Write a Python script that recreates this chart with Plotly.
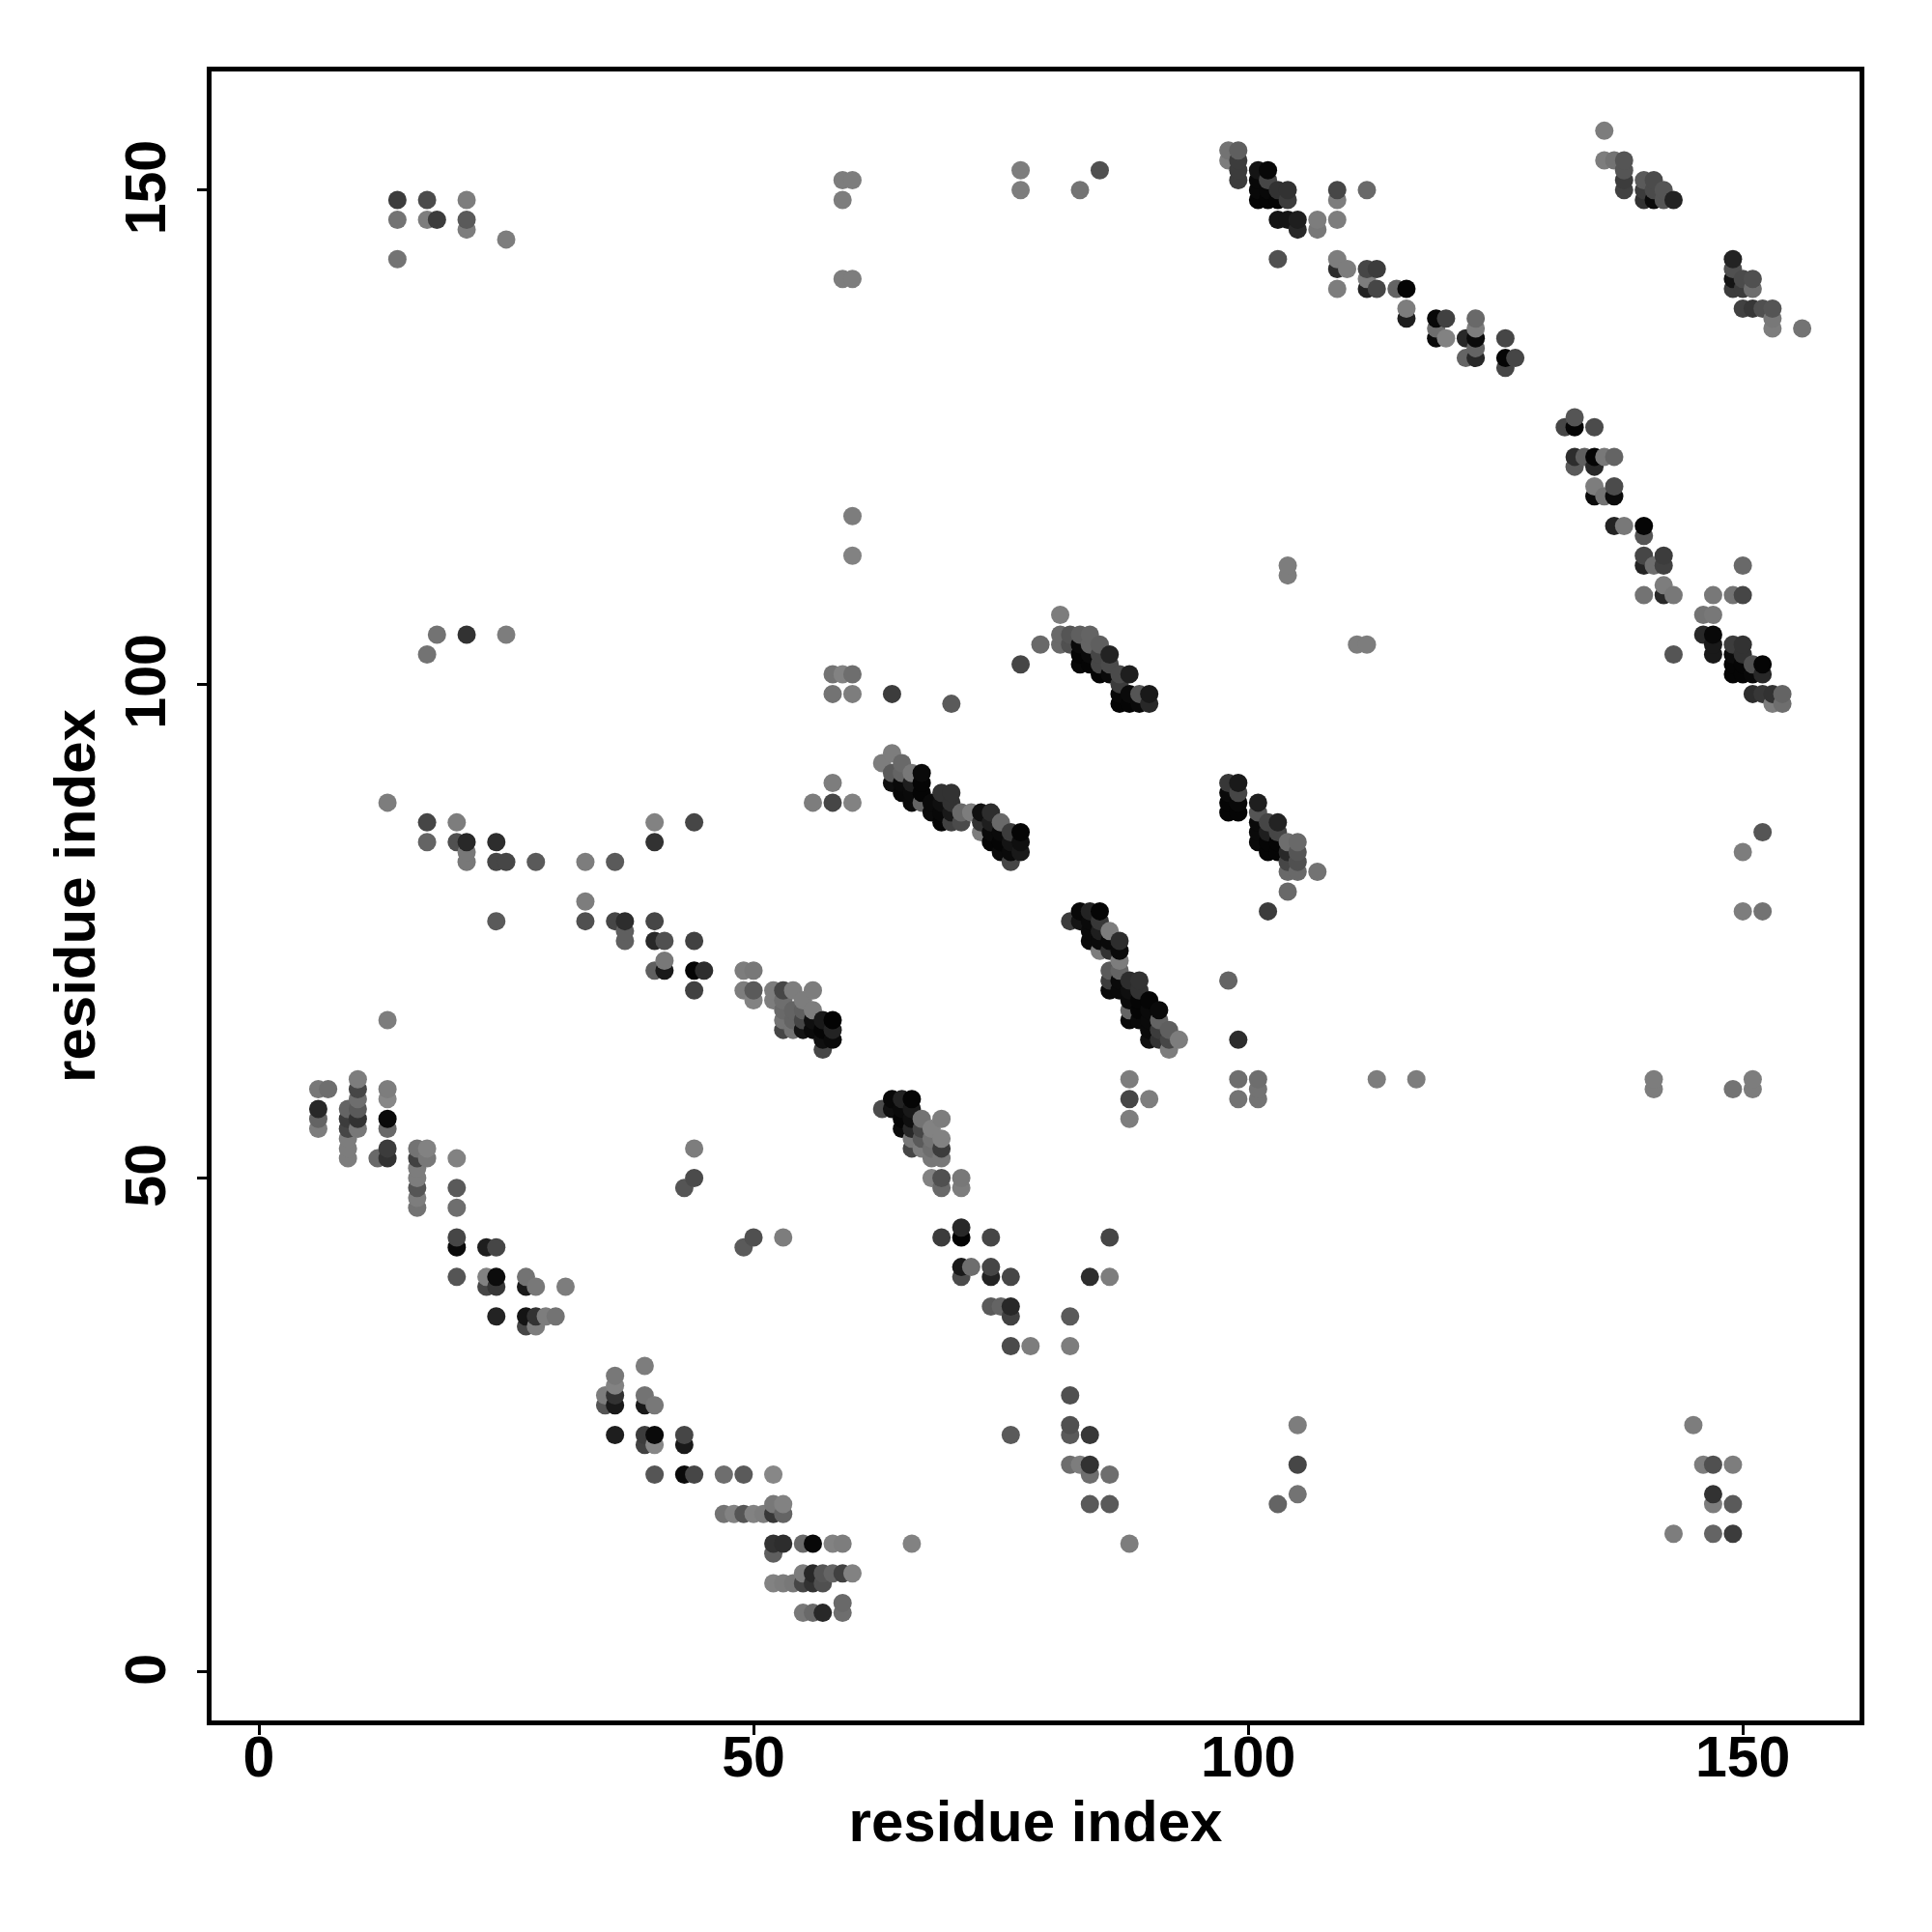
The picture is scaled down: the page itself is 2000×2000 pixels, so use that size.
import plotly.graph_objects as go

# (residue i, residue j, grey level)
lower_left = [
(6,59,120),(6,57,40),(6,56,100),(6,55,125),(7,59,110),
(9,57,100),(9,56,60),(9,55,70),(9,54,125),(9,53,125),(9,52,125),
(10,60,125),(10,59,70),(10,58,110),(10,57,90),(10,56,50),(10,55,120),
(12,52,105),(13,66,125),(13,59,125),(13,58,135),(13,56,10),(13,55,105),(13,53,60),(13,52,50),
(16,53,115),(16,52,65),(16,51,125),(16,50,125),(16,49,85),(16,48,125),(16,47,115),(17,53,130),(17,52,120),
(20,52,130),(20,49,90),(20,47,110),(20,44,70),(20,43,10),(20,40,85),
(23,43,30),(23,40,130),(23,39,70),(24,43,70),(24,40,12),(24,39,55),(24,36,35),
(27,40,115),(27,39,25),(27,36,20),(27,35,70),(28,39,120),(28,36,50),(28,35,125),(29,36,125),(30,36,115),(31,39,125),
]
lower_mid = [
(35,28,125),(35,27,85),(36,30,120),(36,29,130),(36,28,50),(36,27,25),(36,24,30),
(39,31,125),(39,28,115),(39,27,25),(39,24,60),(39,23,65),(40,27,120),(40,24,10),(40,23,135),(40,20,85),
(43,24,70),(43,23,25),(43,20,10),(44,20,70),(47,20,110),(47,16,115),(48,16,130),(49,20,90),(49,16,85),(50,16,130),(51,16,125),
(52,20,135),(52,17,120),(52,16,55),(52,13,50),(52,12,95),(52,9,130),(53,17,130),(53,16,100),(53,13,45),(53,9,125),(54,9,120),
(55,13,105),(55,10,125),(55,9,70),(55,6,120),(56,13,8),(56,10,40),(56,9,50),(56,6,105),(57,10,85),(57,9,80),(57,6,40),
(58,13,130),(58,10,100),(59,13,125),(59,10,65),(59,7,105),(59,6,110),(60,10,130),(66,13,130),
]
middle_band = [
(33,82,125),(33,78,125),(33,76,80),(36,82,90),(36,76,70),(37,76,45),(37,75,95),(37,74,95),
(40,86,130),(40,84,50),(40,76,70),(40,74,40),(40,71,95),(41,74,80),(41,72,120),(41,71,25),
(44,86,70),(44,74,65),(44,71,5),(44,69,65),(45,71,45),(49,71,125),(49,69,125),(50,71,120),(50,69,90),(50,68,130),
(52,69,125),(52,68,125),(53,69,70),(53,68,110),(53,67,105),(53,66,115),(53,65,70),(54,69,125),(54,67,100),(54,66,100),(54,65,115),
(55,68,125),(55,67,95),(55,66,70),(55,65,20),(56,69,125),(56,67,125),(56,66,15),(56,65,10),
(57,66,25),(57,65,5),(57,64,15),(57,63,70),(58,66,3),(58,65,35),(58,64,10),
]
upper_left = [
(13,88,125),(17,86,70),(20,86,125),(17,84,100),(20,84,80),(21,84,40),(21,83,120),(21,82,120),(24,84,45),(24,82,70),(25,82,70),(28,82,90),(24,76,90),
(17,103,115),(18,105,115),(21,105,50),(25,105,125),
(14,149,60),(17,149,75),(21,149,125),(14,147,115),(17,147,125),(18,147,60),(21,147,90),(21,146,125),(14,143,115),(25,145,125),
(59,151,125),(60,151,125),(59,149,125),(59,141,125),(60,141,125),(77,152,125),(77,150,125),(83,150,115),(85,152,80),
(60,117,125),(60,113,130),(58,101,115),(59,101,130),(60,101,110),(58,99,115),(60,99,125),(64,99,60),(70,98,90),(77,102,70),
(79,104,105),(81,107,125),(56,88,125),(58,90,125),(58,88,70),(60,88,130),
(43,49,85),(44,50,75),(44,53,125),(49,43,90),(50,44,80),(53,44,125),
]
block_58 = [
(63,57,75),(64,58,8),(65,58,35),(66,58,5),(64,57,15),(65,57,10),(66,57,25),(65,56,5),(66,56,15),(67,56,115),(69,56,125),
(65,55,10),(66,55,40),(67,55,70),(68,55,130),(66,54,120),(67,54,90),(68,54,115),(69,54,130),(66,53,70),(67,53,125),(68,53,110),(69,53,60),
(68,52,120),(69,52,120),(68,50,130),(69,50,80),(71,50,120),(69,49,105),(71,49,125),
(71,45,40),(69,44,60),(71,44,3),(74,44,70),(71,41,25),(72,41,110),(74,41,70),(71,40,75),(74,40,35),(76,40,70),
(74,37,90),(75,37,100),(76,37,40),(76,36,65),(76,33,75),(78,33,125),(76,24,90),
(82,36,90),(82,33,125),(84,40,45),(86,40,125),(86,44,70),(88,60,125),(88,58,70),(88,56,125),(90,58,125),
(82,28,80),(82,25,80),(82,24,90),(84,24,55),(82,21,110),(83,21,125),(84,21,50),(84,20,110),(86,20,110),(84,17,90),(86,17,90),(88,13,125),
]
block_90 = [
(64,93,125),(63,92,125),(65,92,105),(64,91,90),(65,91,100),(66,91,120),(67,91,10),(64,90,15),(65,90,10),(66,90,30),(67,90,5),
(65,89,8),(66,89,10),(67,89,5),(69,89,50),(70,89,50),(66,88,10),(67,88,100),(68,88,10),(69,88,15),(70,88,50),
(68,87,10),(69,87,8),(70,87,25),(71,87,105),(72,87,125),(73,87,15),(74,87,45),(69,86,5),(70,86,65),(71,86,75),(73,86,50),(74,86,30),(75,86,105),
(73,85,125),(74,85,10),(75,85,10),(76,85,60),(77,85,5),(74,84,5),(75,84,5),(76,84,20),(77,84,15),(75,83,10),(76,83,10),(77,83,25),(76,82,70),
]
block_70 = [
(83,77,8),(84,77,35),(85,77,5),(82,76,60),(83,76,20),(84,76,10),(85,76,55),(84,75,10),(85,75,30),(86,75,125),
(84,74,10),(85,74,10),(86,74,10),(87,74,45),(85,73,125),(86,73,50),(87,73,10),(87,72,125),(86,71,90),(87,71,100),
(86,70,60),(87,70,10),(88,70,45),(89,70,50),(86,69,10),(87,69,10),(88,69,15),(89,69,50),(88,68,10),(89,68,5),(90,68,5),
(88,67,100),(89,67,5),(90,67,10),(91,67,10),(88,66,8),(89,66,10),(90,66,10),(91,66,100),(90,65,10),(91,65,60),(92,65,95),
(90,64,15),(91,64,50),(92,64,70),(93,64,125),(92,63,125),
]
block_100 = [
(81,105,105),(82,105,85),(83,105,95),(84,105,100),(81,104,105),(82,104,80),(83,104,10),(84,104,100),(85,104,95),
(83,103,5),(84,103,10),(85,103,70),(86,103,35),(83,102,8),(84,102,5),(85,102,70),(86,102,75),
(85,101,5),(86,101,10),(87,101,75),(88,101,30),(87,100,60),(87,99,8),(88,99,10),(89,99,85),(90,99,25),(87,98,5),(88,98,5),(89,98,10),(90,98,40),
]
block_85 = [
(98,90,55),(98,89,10),(98,88,5),(98,87,5),(99,90,25),(99,89,70),(99,88,8),(99,87,5),
(101,88,30),(101,87,85),(101,86,10),(101,85,10),(101,84,10),(102,86,70),(102,85,30),(102,84,5),(102,83,5),
(103,86,35),(103,85,70),(103,84,5),(103,83,5),(104,84,110),(104,83,40),(104,82,70),(104,81,105),(104,79,105),
(105,84,105),(105,83,85),(105,82,80),(105,81,105),(107,81,115),(102,77,60),
(98,70,100),(99,64,45),(99,60,110),(101,60,110),(99,58,115),(101,59,115),(101,58,115),
(113,60,125),(117,60,125),(141,60,125),(141,59,125),(149,59,115),(151,60,125),(151,59,125),
(150,83,125),(152,85,85),(150,77,125),(152,77,115),
(104,112,125),(104,111,125),(111,104,125),(112,104,125),(143,103,85),
(105,25,125),(105,21,70),(105,18,115),(103,17,100),
(145,25,125),(146,21,125),(147,21,80),(149,21,125),(147,18,50),(147,17,125),(149,17,90),(143,14,125),(147,14,100),(149,14,60),
]
upper_150 = [
(98,154,115),(98,153,125),(99,154,95),(99,153,60),(99,152,60),(99,151,60),
(101,152,20),(101,151,8),(101,150,8),(101,149,5),(102,152,8),(102,151,70),(102,150,8),(102,149,5),
(103,150,50),(103,149,5),(103,147,20),(103,143,80),(104,150,50),(104,149,60),(104,147,20),(105,147,30),(105,146,40),
(107,147,125),(107,146,120),(109,150,70),(109,149,125),(109,147,125),(109,143,125),(109,142,45),(109,140,125),(110,142,125),
(112,150,105),(112,142,70),(112,141,125),(112,140,35),(113,142,60),(113,140,70),(115,140,100),(116,140,5),(116,138,125),(116,137,30),
(119,137,8),(119,136,110),(119,135,10),(120,137,65),(120,135,130),(122,135,40),(122,133,100),
(123,137,105),(123,136,125),(123,135,10),(123,134,100),(123,133,40),(126,135,70),(126,133,5),(126,132,70),(127,133,70),
]
upper_right = [
(136,156,125),(136,153,125),(137,153,115),(138,153,85),(138,152,85),(138,151,60),(138,150,65),
(140,151,90),(140,150,60),(140,149,50),(141,151,75),(141,150,75),(141,149,10),(142,150,85),(142,149,85),(143,149,35),
(149,143,35),(149,142,80),(149,141,20),(149,140,60),(150,141,75),(150,140,60),(150,138,65),(151,141,80),(151,140,110),(151,138,55),
(152,138,80),(153,138,85),(153,137,120),(153,136,125),(156,136,115),
]
right_band = [
(132,126,70),(133,127,85),(133,126,5),(135,126,75),(133,123,45),(133,122,90),(134,123,95),
(135,123,5),(135,122,40),(135,120,125),(135,119,10),(136,123,120),(136,119,115),(137,123,100),(137,120,75),(137,119,10),
(137,116,35),(138,116,120),(140,116,5),(140,115,85),(140,113,70),(140,112,35),(140,109,115),(141,112,110),
(142,113,60),(142,112,65),(142,110,125),(142,109,40),(143,109,120),(146,107,115),(147,107,120),(147,109,120),(149,109,115),(150,109,70),(150,112,105),
(146,105,40),(147,105,8),(147,104,25),(147,103,25),(149,104,60),(150,104,50),(149,103,10),(150,103,50),
(149,102,5),(150,102,5),(151,102,80),(152,102,5),(149,101,5),(150,101,5),(151,101,8),(152,101,40),
(151,99,45),(152,99,55),(153,99,50),(154,99,100),(153,98,125),(154,98,110),
]
x_ticks = [0, 50, 100, 150]
y_ticks = [0, 50, 100, 150]
x_title = "residue index"
y_title = "residue index"

points = sorted(lower_left + lower_mid + middle_band + upper_left + block_58 + block_90
                + block_70 + block_100 + block_85 + upper_150 + upper_right + right_band,
                key=lambda p: (p[0], p[1]))
xs = [p[0] for p in points]
ys = [p[1] for p in points]
colors = [f"rgb({p[2]},{p[2]},{p[2]})" for p in points]

fig = go.Figure(go.Scatter(x=xs, y=ys, mode="markers",
                           marker=dict(size=19, color=colors, line=dict(width=0))))
# empty trace: only carries the y tick labels and title, nudged down to sit like the reference's
fig.add_trace(go.Scatter(x=[], y=[], yaxis="y2", showlegend=False))

tick_font = dict(family="Liberation Sans", size=59, color="black", weight="bold")
title_font = dict(family="Liberation Sans", size=60, color="black", weight="bold")
axis = dict(showgrid=False, zeroline=False, showline=True, mirror=True, linecolor="black", linewidth=5,
            ticks="outside", ticklen=10, tickwidth=3, tickcolor="black", tickfont=tick_font,
            tickvals=x_ticks, automargin=False)
y_range = [-4.89, 162.0]
fig.update_layout(
    width=2000, height=2000, paper_bgcolor="white", plot_bgcolor="white", showlegend=False,
    margin=dict(l=211, r=83, t=66, b=227),
    font=dict(family="Liberation Sans"),
    xaxis=dict(axis, range=[-4.785, 161.8], ticklabelstandoff=-28, automargin=True,
               title=dict(text=f"<b>{x_title}</b>", font=title_font, standoff=8)),
    yaxis=dict(axis, range=y_range, tickvals=y_ticks, showticklabels=False),
    yaxis2=dict(overlaying="y", side="left", anchor="x", range=[y_range[0] + 0.6, y_range[1] + 0.6],
                tickvals=y_ticks, tickangle=-90, ticklabelstandoff=35, tickfont=tick_font, ticks="",
                ticklen=10, showgrid=False, zeroline=False, showline=False, automargin=False,
                title=dict(text=f"<b>{y_title}</b>", font=title_font, standoff=0)),
)
fig.write_html("out.html")
